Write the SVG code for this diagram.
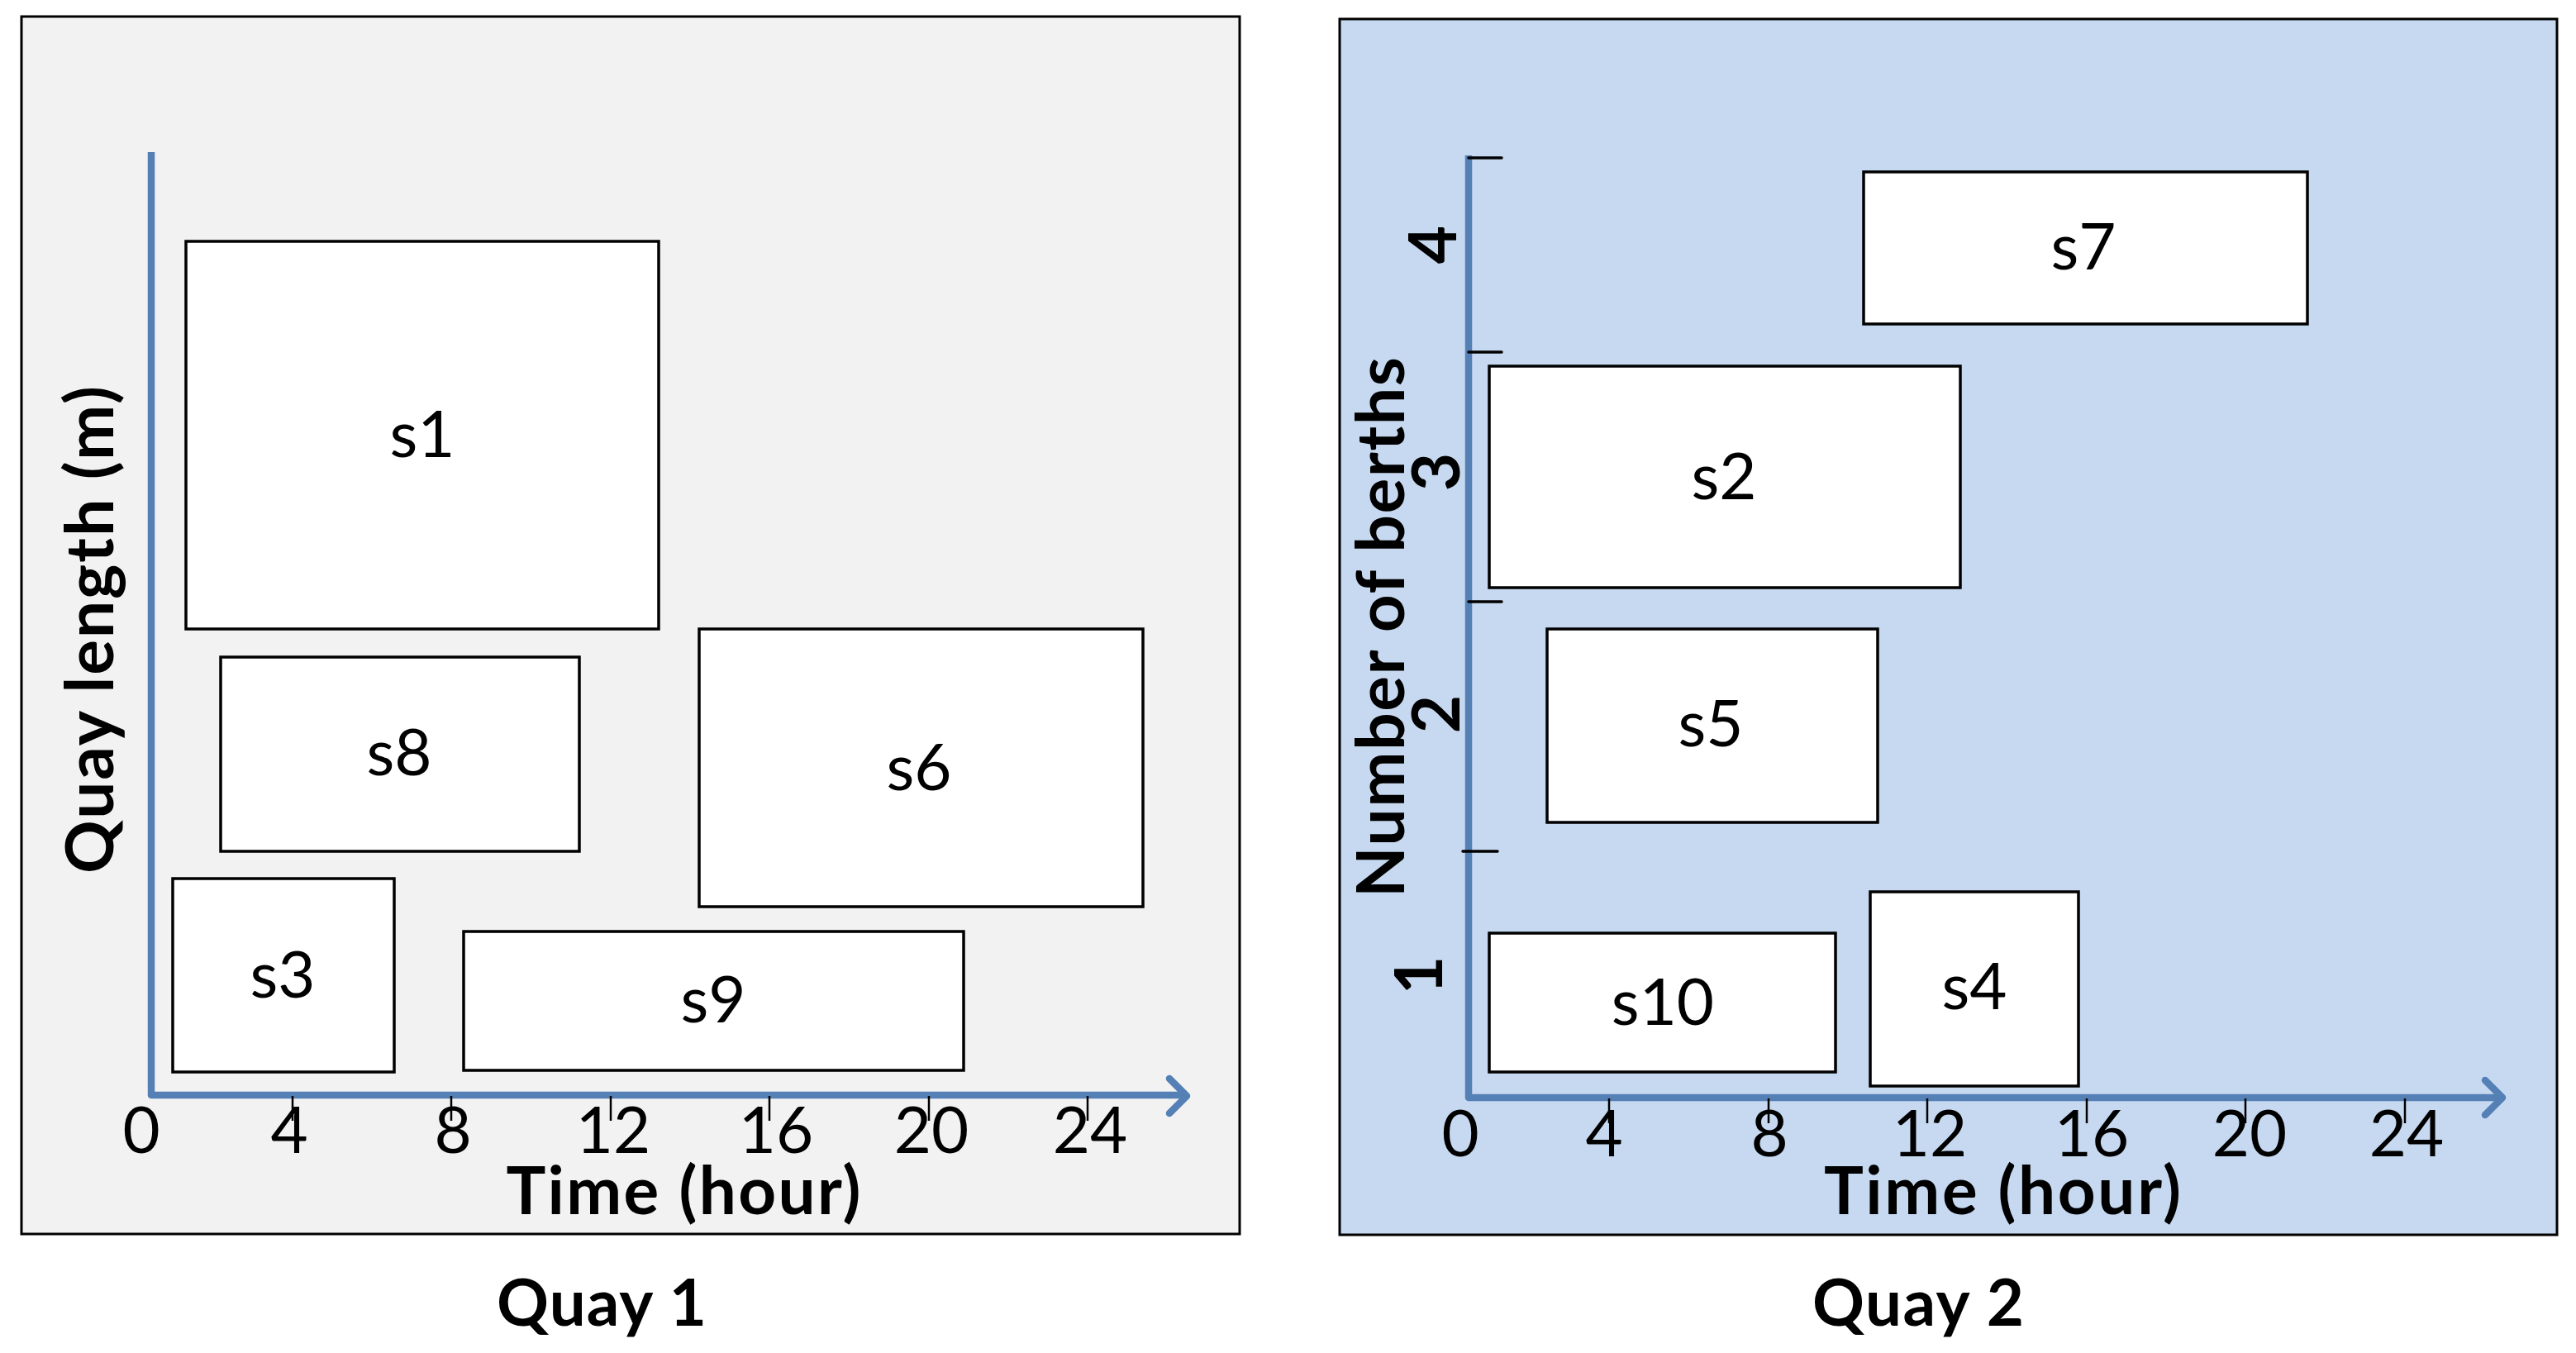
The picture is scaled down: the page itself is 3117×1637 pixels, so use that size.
<svg xmlns="http://www.w3.org/2000/svg" width="3117" height="1637" viewBox="0 0 3117 1637">
<style>
.panel{stroke:#000;stroke-width:3}
.box{fill:#fff;stroke:#000;stroke-width:3.5}
.lbl{font-family:Lato,"Liberation Sans",sans-serif;font-size:78px;fill:#000;text-anchor:middle}
.tick{font-family:Lato,"Liberation Sans",sans-serif;font-size:78px;fill:#000;text-anchor:middle}
.title{font-family:Lato,"Liberation Sans",sans-serif;font-size:80px;font-weight:bold;fill:#000;text-anchor:middle}
.cap{font-family:Lato,"Liberation Sans",sans-serif;font-size:78px;font-weight:bold;fill:#000;text-anchor:middle}
.axis{fill:none;stroke:#5580b5;stroke-width:8.5;stroke-linejoin:round}
.arr{fill:none;stroke:#5580b5;stroke-width:8.5;stroke-linecap:round;stroke-linejoin:round}
.tk{stroke:#000;stroke-width:2.5}
.ytk{stroke:#000;stroke-width:3.5;stroke-linecap:round}
</style>
<rect width="3117" height="1637" fill="#fff"/>
<g id="quay1">
<rect class="panel" x="26" y="20" width="1474" height="1473" fill="#f2f2f2"/>
<g id="q1-axes">
<polyline class="axis" points="183,184 183,1325 1434,1325"/>
<polyline class="arr" points="1415,1305 1436,1326 1415,1347"/>
<g id="q1-ticks">
<line class="tk" x1="354" y1="1326" x2="354" y2="1356"/>
<line class="tk" x1="546" y1="1326" x2="546" y2="1356"/>
<line class="tk" x1="739" y1="1326" x2="739" y2="1356"/>
<line class="tk" x1="931" y1="1326" x2="931" y2="1356"/>
<line class="tk" x1="1124" y1="1326" x2="1124" y2="1356"/>
<line class="tk" x1="1316" y1="1326" x2="1316" y2="1356"/>
</g>
<text class="tick" x="171" y="1395">0</text>
<text class="tick" x="350" y="1395">4</text>
<text class="tick" x="548" y="1395">8</text>
<text class="tick" x="742" y="1395">12</text>
<text class="tick" x="939" y="1395">16</text>
<text class="tick" x="1127" y="1395">20</text>
<text class="tick" x="1319" y="1395">24</text>
<text class="title" x="827" y="1469" textLength="429" lengthAdjust="spacing">Time (hour)</text>
<text class="title" transform="translate(137,762) rotate(-90)" textLength="590" lengthAdjust="spacing">Quay length (m)</text>
</g>
<g id="s1"><rect class="box" x="225" y="292" width="572" height="469"/><text class="lbl" x="511" y="553">s1</text></g>
<g id="s8"><rect class="box" x="267" y="795" width="434" height="235"/><text class="lbl" x="483" y="938">s8</text></g>
<g id="s6"><rect class="box" x="846" y="761" width="537" height="336"/><text class="lbl" x="1112" y="956">s6</text></g>
<g id="s3"><rect class="box" x="209" y="1063" width="268" height="234"/><text class="lbl" x="342" y="1207">s3</text></g>
<g id="s9"><rect class="box" x="561" y="1127" width="605" height="168"/><text class="lbl" x="863" y="1237">s9</text></g>
</g>
<text id="quay1-caption" class="cap" x="728" y="1604" textLength="254" lengthAdjust="spacing">Quay 1</text>
<g id="quay2">
<rect class="panel" x="1621" y="23" width="1473" height="1471" fill="#c6d9f0"/>
<g id="q2-axes">
<polyline class="axis" points="1777,188 1777,1328 3026,1328"/>
<polyline class="arr" points="3007,1307 3028,1328 3007,1349"/>
<line class="ytk" x1="1777" y1="191" x2="1817" y2="191"/>
<line class="ytk" x1="1777" y1="426" x2="1817" y2="426"/>
<line class="ytk" x1="1777" y1="728" x2="1817" y2="728"/>
<line class="ytk" x1="1770" y1="1030" x2="1812" y2="1030"/>
<g id="q2-ticks">
<line class="tk" x1="1947" y1="1329" x2="1947" y2="1359"/>
<line class="tk" x1="2140" y1="1329" x2="2140" y2="1359"/>
<line class="tk" x1="2332" y1="1329" x2="2332" y2="1359"/>
<line class="tk" x1="2525" y1="1329" x2="2525" y2="1359"/>
<line class="tk" x1="2717" y1="1329" x2="2717" y2="1359"/>
<line class="tk" x1="2910" y1="1329" x2="2910" y2="1359"/>
</g>
<text class="tick" x="1767" y="1399">0</text>
<text class="tick" x="1941" y="1399">4</text>
<text class="tick" x="2141" y="1399">8</text>
<text class="tick" x="2335" y="1399">12</text>
<text class="tick" x="2531" y="1399">16</text>
<text class="tick" x="2722" y="1399">20</text>
<text class="tick" x="2912" y="1399">24</text>
<text class="title" x="2423" y="1469" textLength="432" lengthAdjust="spacing">Time (hour)</text>
<text class="title" transform="translate(1699,759) rotate(-90)" textLength="654" lengthAdjust="spacing">Number of berths</text>
<text class="title" transform="translate(1762,296) rotate(-90)">4</text>
<text class="title" transform="translate(1766,571) rotate(-90)">3</text>
<text class="title" transform="translate(1766,864) rotate(-90)">2</text>
<text class="title" transform="translate(1745,1180) rotate(-90)">1</text>
</g>
<g id="s7"><rect class="box" x="2255" y="208" width="537" height="184"/><text class="lbl" x="2521" y="326">s7</text></g>
<g id="s2"><rect class="box" x="1802" y="443" width="570" height="268"/><text class="lbl" x="2086" y="604">s2</text></g>
<g id="s5"><rect class="box" x="1872" y="761" width="400" height="234"/><text class="lbl" x="2070" y="903">s5</text></g>
<g id="s10"><rect class="box" x="1802" y="1129" width="419" height="168"/><text class="lbl" x="2012" y="1240">s10</text></g>
<g id="s4"><rect class="box" x="2263" y="1079" width="252" height="235"/><text class="lbl" x="2389" y="1221">s4</text></g>
</g>
<text id="quay2-caption" class="cap" x="2321" y="1604" textLength="256" lengthAdjust="spacing">Quay 2</text>
</svg>
